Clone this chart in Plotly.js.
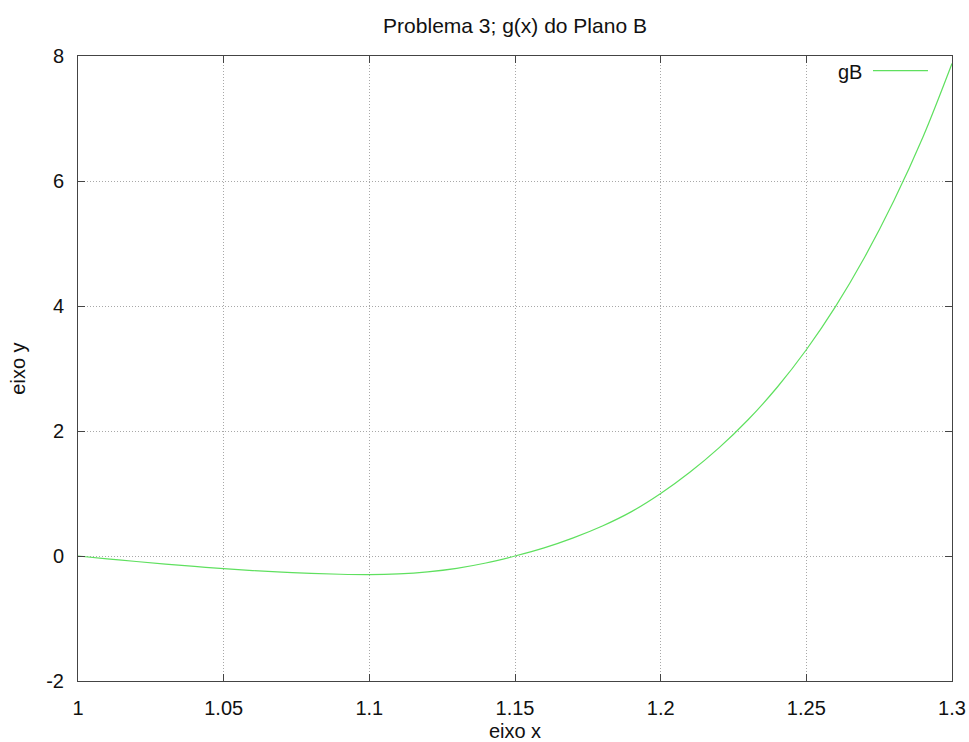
<!DOCTYPE html>
<html>
<head>
<meta charset="utf-8">
<script src="https://cdn.plot.ly/plotly-3.0.1.min.js"></script>
<style>
  html, body { margin: 0; padding: 0; background: #ffffff; }
  #chart { width: 969px; height: 742px; }
</style>
</head>
<body>
<div id="chart"></div>
<script>
// g(x) sampled over [1, 1.3]
const xValues = [1.00, 1.01, 1.02, 1.03, 1.04, 1.05, 1.06, 1.07, 1.08, 1.09, 1.10,
                 1.11, 1.12, 1.13, 1.14, 1.15, 1.16, 1.17, 1.18, 1.19, 1.20,
                 1.21, 1.22, 1.23, 1.24, 1.25, 1.26, 1.27, 1.28, 1.29, 1.30];
const gValues = [0, -0.045, -0.088, -0.129, -0.167, -0.202, -0.233, -0.259, -0.279, -0.292, -0.297,
                 -0.285, -0.253, -0.197, -0.112, 0, 0.13, 0.29, 0.48, 0.71, 1.0,
                 1.34, 1.73, 2.18, 2.70, 3.30, 3.99, 4.78, 5.68, 6.70, 7.88];
const xTicks = [1, 1.05, 1.1, 1.15, 1.2, 1.25, 1.3];
const xTickLabels = ['1', '1.05', '1.1', '1.15', '1.2', '1.25', '1.3'];
const yTicks = [-2, 0, 2, 4, 6, 8];
const yTickLabels = ['-2', '0', '2', '4', '6', '8'];
const seriesName = 'gB';

const font = 'Liberation Sans, Arial, Helvetica, sans-serif';
const green = '#5fe05f';

const trace = {
  x: xValues,
  y: gValues,
  name: seriesName,
  type: 'scatter',
  mode: 'lines',
  line: { color: green, width: 1.2, shape: 'spline', smoothing: 1 },
  showlegend: false,
  hoverinfo: 'x+y'
};

const axisCommon = {
  showline: true,
  linecolor: '#444444',
  linewidth: 1,
  mirror: 'allticks',
  ticks: 'inside',
  ticklen: 7,
  tickwidth: 1,
  tickcolor: '#444444',
  showgrid: true,
  gridcolor: '#a8a8a8',
  gridwidth: 1,
  griddash: '1px,2px',
  zeroline: false,
  tickfont: { family: font, size: 20, color: '#111111' },
  ticklabelstandoff: 9
};

const layout = {
  width: 969,
  height: 742,
  paper_bgcolor: '#ffffff',
  plot_bgcolor: '#ffffff',
  margin: { l: 78, r: 17, t: 56, b: 61 },
  title: {
    text: 'Problema 3; g(x) do Plano B',
    font: { family: font, size: 21, color: '#111111' },
    x: 0.5315, xanchor: 'center',
    y: 0.966, yanchor: 'middle'
  },
  xaxis: Object.assign({}, axisCommon, {
    range: [1, 1.3],
    tickvals: xTicks,
    ticktext: xTickLabels,
    title: { text: 'eixo x', font: { family: font, size: 20, color: '#111111' }, standoff: 11 }
  }),
  yaxis: Object.assign({}, axisCommon, {
    range: [-2, 8],
    tickvals: yTicks,
    ticktext: yTickLabels,
    title: { text: 'eixo y', font: { family: font, size: 20, color: '#111111' }, standoff: 15 }
  }),
  annotations: [{
    xref: 'paper', yref: 'paper',
    x: 0.899, y: 0.975,
    xanchor: 'right', yanchor: 'middle',
    text: seriesName,
    showarrow: false,
    font: { family: font, size: 20, color: '#111111' }
  }],
  shapes: [{
    type: 'line', xref: 'paper', yref: 'paper',
    x0: 0.9096, x1: 0.9725, y0: 0.9765, y1: 0.9765,
    line: { color: green, width: 1.2 }
  }]
};

Plotly.newPlot('chart', [trace], layout, { displayModeBar: false, staticPlot: true });
</script>
</body>
</html>
